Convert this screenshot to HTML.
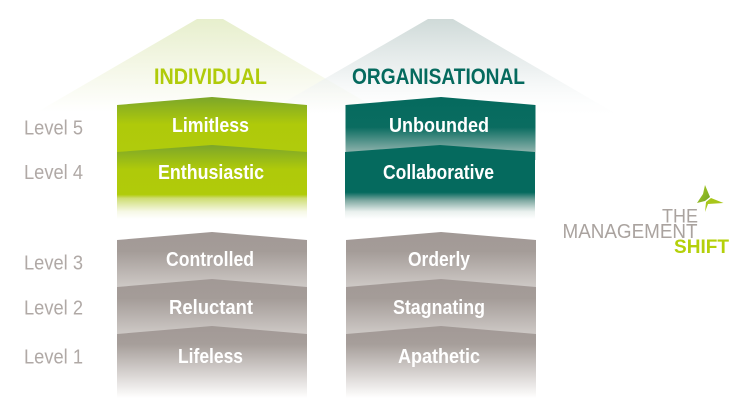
<!DOCTYPE html>
<html><head><meta charset="utf-8"><style>
html,body{margin:0;padding:0;background:#fff}
svg{display:block}
text{font-family:"Liberation Sans",sans-serif}
.t{font-size:20.5px;font-weight:bold;fill:#fff;text-anchor:start}
.l{font-size:20px;fill:#b0a9a6}
</style></head><body>
<svg width="754" height="411" viewBox="0 0 754 411" xmlns="http://www.w3.org/2000/svg">
<defs>
<linearGradient id="pl" x1="0" y1="19" x2="0" y2="112" gradientUnits="userSpaceOnUse"><stop offset="0" stop-color="#e7efcd"/><stop offset=".5" stop-color="#f4f7e6"/><stop offset="1" stop-color="#fff"/></linearGradient>
<linearGradient id="pr" x1="0" y1="19" x2="0" y2="120" gradientUnits="userSpaceOnUse"><stop offset="0" stop-color="#cfdad8"/><stop offset=".5" stop-color="#e9eeee" stop-opacity=".85"/><stop offset="1" stop-color="#fff" stop-opacity="0"/></linearGradient>
<linearGradient id="g5" x1="0" y1="97" x2="0" y2="152" gradientUnits="userSpaceOnUse"><stop offset="0" stop-color="#7ca62a"/><stop offset=".5" stop-color="#afca0a"/><stop offset="1" stop-color="#b0cb0c"/></linearGradient>
<linearGradient id="g4" x1="0" y1="145" x2="0" y2="219" gradientUnits="userSpaceOnUse"><stop offset="0" stop-color="#7ca62a"/><stop offset=".33" stop-color="#afca0a"/><stop offset=".67" stop-color="#b0cb0a"/><stop offset=".72" stop-color="#cfdd73"/><stop offset=".9" stop-color="#f6f8e6"/><stop offset="1" stop-color="#fff"/></linearGradient>
<linearGradient id="t5" x1="0" y1="97" x2="0" y2="152" gradientUnits="userSpaceOnUse"><stop offset="0" stop-color="#056a5e"/><stop offset=".55" stop-color="#0a6c60"/><stop offset="1" stop-color="#8db2ac"/></linearGradient>
<linearGradient id="t4" x1="0" y1="145" x2="0" y2="219" gradientUnits="userSpaceOnUse"><stop offset="0" stop-color="#056a5e"/><stop offset=".64" stop-color="#056a5e"/><stop offset=".75" stop-color="#7fa9a2"/><stop offset=".9" stop-color="#e9f0ee"/><stop offset="1" stop-color="#fff"/></linearGradient>
<linearGradient id="a3" x1="0" y1="232" x2="0" y2="287" gradientUnits="userSpaceOnUse"><stop offset="0" stop-color="#a29996"/><stop offset=".35" stop-color="#a49c98"/><stop offset="1" stop-color="#cec9c6"/></linearGradient>
<linearGradient id="a2" x1="0" y1="279" x2="0" y2="334" gradientUnits="userSpaceOnUse"><stop offset="0" stop-color="#a29996"/><stop offset=".35" stop-color="#a49c98"/><stop offset="1" stop-color="#cec9c6"/></linearGradient>
<linearGradient id="a1" x1="0" y1="326" x2="0" y2="398" gradientUnits="userSpaceOnUse"><stop offset="0" stop-color="#a29996"/><stop offset=".25" stop-color="#a69e9a"/><stop offset=".7" stop-color="#dcd8d6"/><stop offset="1" stop-color="#fff"/></linearGradient>
<linearGradient id="s1" x1="0" y1="0" x2="1" y2="1"><stop offset="0" stop-color="#b3cf1c"/><stop offset="1" stop-color="#6fa32a"/></linearGradient>
</defs>

<!-- backdrop chevrons -->
<polygon points="197,19 223,19 400,122 20,122" fill="url(#pl)"/>
<polygon points="428,19 453,19 630,122 250,122" fill="url(#pr)"/>

<text x="154" y="84" font-size="22" font-weight="bold" fill="#b0cb0a" textLength="113" lengthAdjust="spacingAndGlyphs">INDIVIDUAL</text>
<text x="352" y="84" font-size="22" font-weight="bold" fill="#056a5e" textLength="173" lengthAdjust="spacingAndGlyphs">ORGANISATIONAL</text>

<!-- Individual -->
<polygon points="117,105 212,97 307,105 307,160 117,160" fill="url(#g5)"/>
<polygon points="117,152 212,145 307,152 307,219 117,219" fill="url(#g4)"/>
<polygon points="117,240 212,232 307,240 307,295 117,295" fill="url(#a3)"/>
<polygon points="117,287 212,279 307,287 307,342 117,342" fill="url(#a2)"/>
<polygon points="117,334 212,326 307,334 307,398 117,398" fill="url(#a1)"/>

<!-- Organisational -->
<polygon points="345.500,105 441,97 535.500,105 535.500,160 345.500,160" fill="url(#t5)"/>
<polygon points="345,152 440,145 535,152 535,219 345,219" fill="url(#t4)"/>
<polygon points="346,240 441,232 536,240 536,295 346,295" fill="url(#a3)"/>
<polygon points="346,287 441,279 536,287 536,342 346,342" fill="url(#a2)"/>
<polygon points="346,334 441,326 536,334 536,398 346,398" fill="url(#a1)"/>

<!-- Box labels -->
<text class="t" x="172" y="132" textLength="77" lengthAdjust="spacingAndGlyphs">Limitless</text>
<text class="t" x="158" y="179" textLength="106" lengthAdjust="spacingAndGlyphs">Enthusiastic</text>
<text class="t" x="166" y="266" textLength="88" lengthAdjust="spacingAndGlyphs">Controlled</text>
<text class="t" x="169" y="314" textLength="84" lengthAdjust="spacingAndGlyphs">Reluctant</text>
<text class="t" x="178" y="363" textLength="65" lengthAdjust="spacingAndGlyphs">Lifeless</text>
<text class="t" x="389" y="132" textLength="100" lengthAdjust="spacingAndGlyphs">Unbounded</text>
<text class="t" x="383" y="179" textLength="111" lengthAdjust="spacingAndGlyphs">Collaborative</text>
<text class="t" x="408" y="266" textLength="62" lengthAdjust="spacingAndGlyphs">Orderly</text>
<text class="t" x="393" y="314" textLength="92" lengthAdjust="spacingAndGlyphs">Stagnating</text>
<text class="t" x="398" y="363" textLength="82" lengthAdjust="spacingAndGlyphs">Apathetic</text>

<!-- Levels -->
<text class="l" x="24" y="134.500" textLength="59" lengthAdjust="spacingAndGlyphs">Level 5</text>
<text class="l" x="24" y="179" textLength="59" lengthAdjust="spacingAndGlyphs">Level 4</text>
<text class="l" x="24" y="269.500" textLength="59" lengthAdjust="spacingAndGlyphs">Level 3</text>
<text class="l" x="24" y="314.500" textLength="59" lengthAdjust="spacingAndGlyphs">Level 2</text>
<text class="l" x="24" y="363.500" textLength="59" lengthAdjust="spacingAndGlyphs">Level 1</text>

<!-- Logo -->
<polygon points="705,185 710,197 705,201 697,203 703,194" fill="url(#s1)"/>
<polygon points="723.500,203 711,198 706,202 705,212 708,204" fill="#a8c61a"/>
<text x="662" y="222.500" font-size="19" fill="#aaa39f" textLength="36" lengthAdjust="spacingAndGlyphs">THE</text>
<text x="562.500" y="238" font-size="20" fill="#aaa39f" textLength="135" lengthAdjust="spacingAndGlyphs">MANAGEMENT</text>
<text x="674" y="253" font-size="19.500" font-weight="bold" fill="#b4d00a" textLength="55" lengthAdjust="spacingAndGlyphs">SHIFT</text>
</svg>
</body></html>
